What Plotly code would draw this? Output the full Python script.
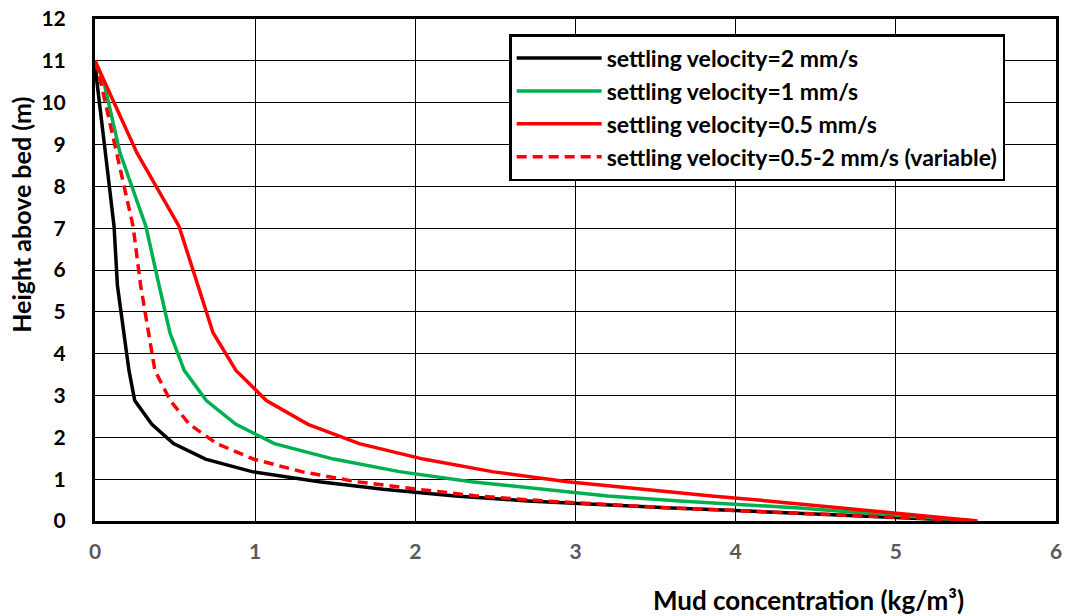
import plotly.graph_objects as go

# Heights above bed (m) of the profile points
height_2 = [11, 10.5, 8.8, 7.04, 5.63, 4.5, 3.6, 2.88, 2.31, 1.85, 1.48, 1.18, 0.94, 0.76, 0.6, 0.48, 0.39, 0.31, 0.25, 0.2, 0.16, 0.1, 0.05, 0]
height_1 = [11, 10.5, 8.8, 7.04, 5.63, 4.5, 3.6, 2.88, 2.31, 1.85, 1.48, 1.18, 0.94, 0.76, 0.6, 0.48, 0.39, 0.31, 0.25, 0.2, 0.16, 0.1, 0.05, 0]
height_05 = [11, 10.5, 8.8, 7.04, 5.63, 4.5, 3.6, 2.88, 2.31, 1.85, 1.48, 1.18, 0.94, 0.76, 0.6, 0.48, 0.39, 0.31, 0.25, 0.2, 0.16, 0.1, 0.05, 0]
height_var = [11, 10.5, 8.8, 7.04, 5.63, 4.5, 3.6, 2.88, 2.31, 1.85, 1.48, 1.18, 0.94, 0.76, 0.6, 0.48, 0.39, 0.31, 0.25, 0.2, 0.16, 0.1, 0.05, 0]

# Mud concentration (kg/m3)
conc_2 = [0, 0.012, 0.065, 0.119, 0.14, 0.181, 0.212, 0.248, 0.355, 0.49, 0.69, 0.98, 1.4, 1.8, 2.25, 2.7, 3.15, 3.6, 4.0, 4.3, 4.6, 5.0, 5.22, 5.45]
conc_1 = [0, 0.055, 0.156, 0.318, 0.40, 0.468, 0.557, 0.695, 0.88, 1.12, 1.49, 1.9, 2.35, 2.78, 3.2, 3.65, 4.1, 4.4, 4.6, 4.78, 4.93, 5.12, 5.3, 5.5]
conc_05 = [0, 0.06, 0.262, 0.525, 0.643, 0.737, 0.88, 1.07, 1.33, 1.65, 2.05, 2.48, 2.95, 3.4, 3.85, 4.2, 4.45, 4.67, 4.83, 4.97, 5.08, 5.24, 5.38, 5.51]
conc_var = [0, 0.035, 0.135, 0.238, 0.285, 0.333, 0.374, 0.47, 0.59, 0.76, 0.99, 1.29, 1.63, 2.01, 2.38, 2.8, 3.2, 3.6, 4.0, 4.33, 4.6, 5.0, 5.25, 5.51]

names = [
    "settling velocity=2 mm/s",
    "settling velocity=1 mm/s",
    "settling velocity=0.5 mm/s",
    "settling velocity=0.5-2 mm/s (variable)",
]

x_ticks = [0, 1, 2, 3, 4, 5, 6]
y_ticks = [0, 1, 2, 3, 4, 5, 6, 7, 8, 9, 10, 11, 12]

FONT = "Lato"

fig = go.Figure()
fig.add_trace(go.Scatter(x=conc_2, y=height_2, mode="lines", name=names[0],
                         line=dict(color="#000000", width=3.5)))
fig.add_trace(go.Scatter(x=conc_1, y=height_1, mode="lines", name=names[1],
                         line=dict(color="#00B050", width=3.5)))
fig.add_trace(go.Scatter(x=conc_05, y=height_05, mode="lines", name=names[2],
                         line=dict(color="#FF0000", width=3.5)))
fig.add_trace(go.Scatter(x=conc_var, y=height_var, mode="lines", name=names[3],
                         line=dict(color="#FF0000", width=3.5, dash="10px,6px")))

fig.update_layout(
    width=1065, height=616,
    margin=dict(l=95, r=9, t=19, b=95),
    paper_bgcolor="white", plot_bgcolor="white",
    font=dict(family=FONT, size=23, color="black", weight="bold"),
    showlegend=True,
    legend=dict(
        x=0.431, y=0.97, xanchor="left", yanchor="top",
        bgcolor="white", bordercolor="black", borderwidth=2.5,
        font=dict(family=FONT, size=23, color="black", weight="bold"),
        tracegroupgap=0, itemwidth=85,
    ),
    xaxis=dict(
        range=[0, 6], tickvals=x_ticks, ticktext=[str(v) for v in x_ticks],
        showgrid=True, gridcolor="black", gridwidth=1,
        showline=True, linecolor="black", linewidth=3, mirror=True,
        ticks="", ticklabelstandoff=10, zeroline=False, automargin=False,
        tickfont=dict(family=FONT, size=21, color="#595959", weight="bold"),
    ),
    yaxis=dict(
        range=[0, 12], tickvals=y_ticks, ticktext=[str(v) for v in y_ticks],
        showgrid=True, gridcolor="black", gridwidth=1,
        showline=True, linecolor="black", linewidth=3, mirror=True,
        ticks="", ticklabelstandoff=22, zeroline=False, automargin=False,
        tickfont=dict(family=FONT, size=21, color="black", weight="bold"),
    ),
    annotations=[
        dict(text="Mud concentration (kg/m³)", xref="paper", yref="paper",
             x=0.742, y=-0.157, xanchor="center", yanchor="middle", showarrow=False,
             font=dict(family=FONT, size=26, color="black", weight="bold")),
        dict(text="Height above bed (m)", xref="paper", yref="paper",
             x=-0.077, y=0.61, xanchor="center", yanchor="middle", showarrow=False,
             textangle=-90,
             font=dict(family=FONT, size=25, color="black", weight="bold")),
    ],
)

fig.write_html("out.html")
